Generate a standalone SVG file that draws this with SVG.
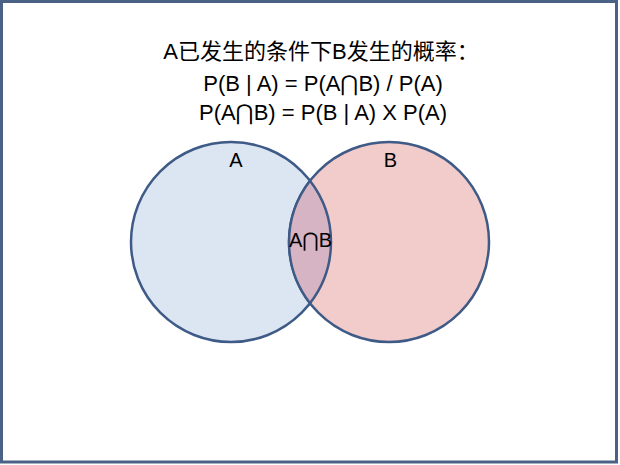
<svg xmlns="http://www.w3.org/2000/svg" width="620" height="465" viewBox="0 0 620 465">
<style>
  .t { font-family: "Liberation Sans", "DejaVu Sans", "Noto Sans CJK SC", sans-serif; fill: #000; text-anchor: middle; }
  .ring { stroke: #3e5a86; stroke-width: 2.5; }
</style>
<rect x="1.5" y="1.5" width="615" height="460.5" fill="#fff" stroke="#4a6285" stroke-width="3"/>
<g id="title">
  <text class="t" x="321" y="59" font-size="22">A已发生的条件下B发生的概率：</text>
  <text class="t" x="323" y="91" font-size="22">P(B | A) = P(A⋂B) / P(A)</text>
  <text class="t" x="323" y="120" font-size="22">P(A⋂B) = P(B | A) X P(A)</text>
</g>
<g id="nodeA">
  <circle class="ring" cx="231" cy="242" r="100" fill="#dce6f2"/>
  <text class="t" x="236" y="167" font-size="20">A</text>
</g>
<g id="nodeB">
  <circle class="ring" cx="389" cy="242" r="100" fill="#f2cbcb"/>
  <text class="t" x="390.5" y="167" font-size="20">B</text>
</g>
<g id="nodeAB">
  <path class="ring" d="M310,180.7 A100,100 0 0 0 310,303.3 A100,100 0 0 0 310,180.7 Z" fill="#d6b4c3"/>
  <text class="t" x="310.5" y="247" font-size="20">A⋂B</text>
</g>
<g id="connectors"/>
</svg>
